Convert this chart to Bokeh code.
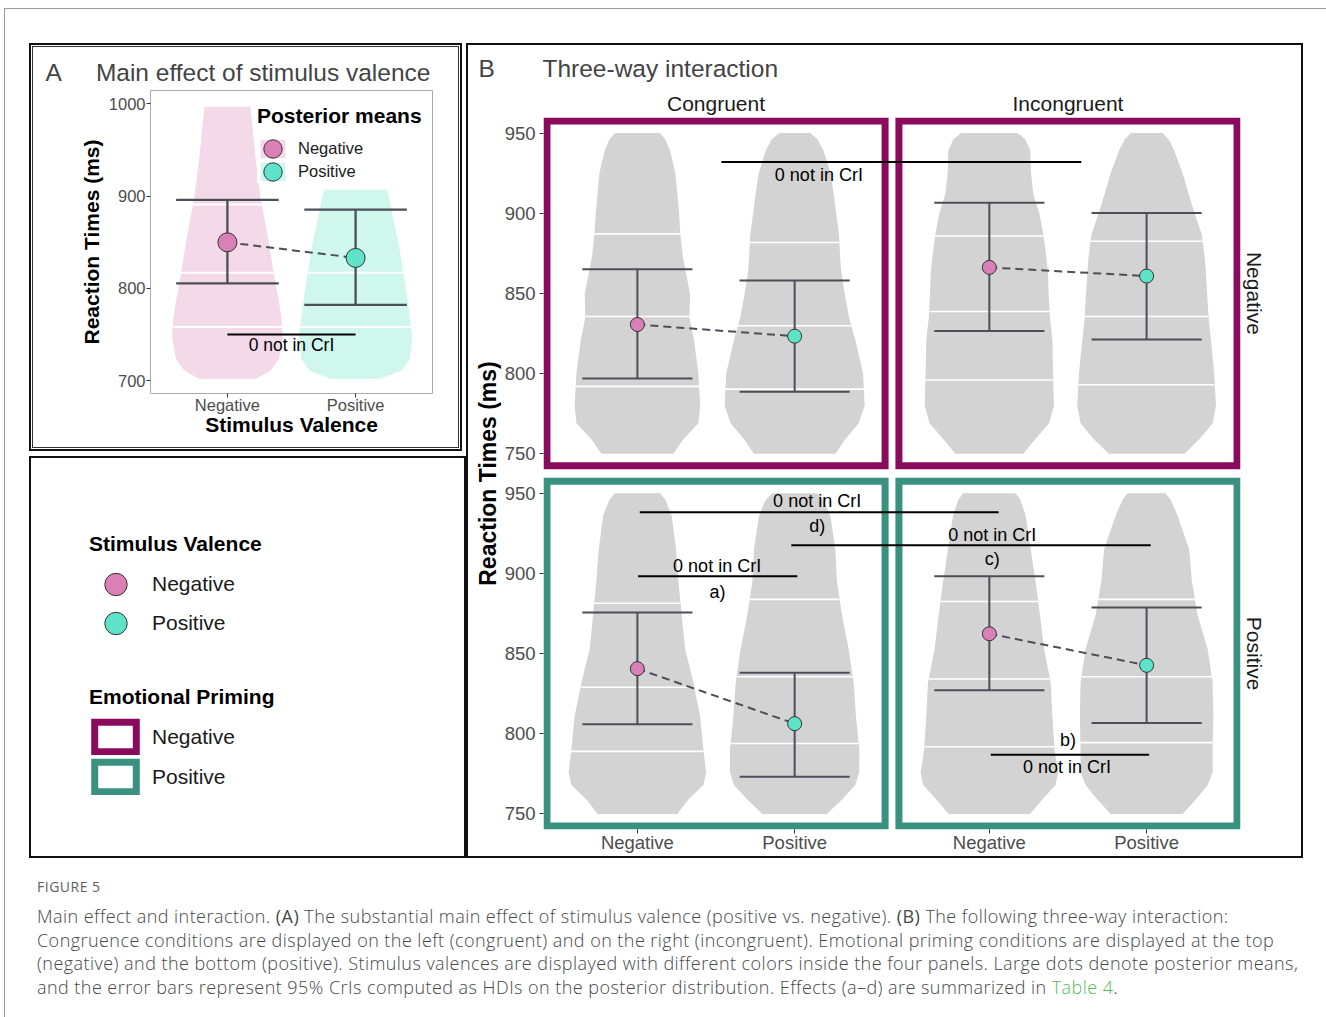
import numpy as np
from bokeh.plotting import figure
from bokeh.models import Range1d, FixedTicker, LinearAxis, Legend, LegendItem, Div, Spacer
from bokeh.layouts import column, row
from bokeh.embed import file_html
from bokeh.resources import INLINE
from bokeh.core.properties import value

FONT = "Liberation Sans"
NB = "\u00a0"

# ---------------- data ----------------
VALENCE = ["Negative", "Positive"]
CONGRUENCE = ["Congruent", "Incongruent"]
PRIMING = ["Negative", "Positive"]
VALENCE_COLORS = ["#DA80B6", "#5FE3C8"]
PRIMING_COLORS = ["#8A0B5D", "#3A9180"]

# Panel A: main effect of stimulus valence
A_MEAN = [849.9, 833.0]
A_LOWER = [805.5, 782.0]
A_UPPER = [895.9, 885.4]
A_VIOLIN_Y_NEG = [702, 711, 723, 747, 767, 787, 801, 850, 899, 942, 997]
A_VIOLIN_W_NEG = [0.223, 0.336, 0.401, 0.432, 0.422, 0.401, 0.380, 0.323, 0.258, 0.219, 0.180]
A_VIOLIN_Y_POS = [702, 711, 723, 747, 767, 787, 817, 850, 874, 903, 907]
A_VIOLIN_W_POS = [0.195, 0.359, 0.422, 0.443, 0.424, 0.406, 0.373, 0.334, 0.295, 0.255, 0.242]
A_QUANT_NEG = [758, 817, 891]
A_QUANT_POS = [758, 817]
A_YTICKS = [700, 800, 900, 1000]
A_CONTRAST = (1.0, 2.0, 750.0)          # x from, x to, y
A_CONTRAST_LABEL = (1.5, 739.0, "0 not in CrI")

# Panel B: three-way interaction, facets keyed by (priming, congruence)
B_YTICKS = [750, 800, 850, 900, 950]
B_LEVELS_TOP = [750, 759, 769, 780, 800, 821, 835, 850, 863, 873, 887, 900, 912, 925, 939, 946, 950]
B_LEVELS_BOTTOM = [750, 759, 768, 776, 790, 811, 832, 853, 874, 895, 915, 936, 946, 950]

B_MEAN = {
    ("Negative", "Congruent"): [830.6, 823.3],
    ("Negative", "Incongruent"): [866.2, 860.8],
    ("Positive", "Congruent"): [840.6, 806.3],
    ("Positive", "Incongruent"): [862.4, 842.7],
}
B_LOWER = {
    ("Negative", "Congruent"): [796.9, 788.6],
    ("Negative", "Incongruent"): [826.6, 821.3],
    ("Positive", "Congruent"): [805.9, 773.2],
    ("Positive", "Incongruent"): [827.1, 806.7],
}
B_UPPER = {
    ("Negative", "Congruent"): [865.1, 858.1],
    ("Negative", "Incongruent"): [906.5, 900.1],
    ("Positive", "Congruent"): [875.7, 838.1],
    ("Positive", "Incongruent"): [898.2, 878.7],
}
B_VIOLIN_W = {
    ("Negative", "Congruent"): (
        [0.229, 0.292, 0.388, 0.399, 0.388, 0.360, 0.331, 0.335, 0.308, 0.289, 0.273, 0.265, 0.254, 0.242, 0.208, 0.178, 0.143],
        [0.259, 0.322, 0.407, 0.445, 0.435, 0.386, 0.346, 0.318, 0.297, 0.289, 0.282, 0.264, 0.248, 0.229, 0.184, 0.146, 0.099]),
    ("Negative", "Incongruent"): (
        [0.216, 0.292, 0.380, 0.411, 0.405, 0.401, 0.385, 0.377, 0.373, 0.362, 0.343, 0.318, 0.280, 0.265, 0.261, 0.229, 0.180],
        [0.240, 0.335, 0.420, 0.441, 0.430, 0.409, 0.394, 0.385, 0.377, 0.369, 0.350, 0.305, 0.267, 0.229, 0.176, 0.140, 0.100]),
    ("Positive", "Congruent"): (
        [0.254, 0.324, 0.420, 0.437, 0.420, 0.399, 0.356, 0.303, 0.282, 0.261, 0.246, 0.218, 0.178, 0.143],
        [0.205, 0.301, 0.386, 0.411, 0.411, 0.390, 0.375, 0.343, 0.301, 0.269, 0.259, 0.227, 0.184, 0.140]),
    ("Positive", "Incongruent"): (
        [0.259, 0.337, 0.421, 0.437, 0.415, 0.401, 0.390, 0.348, 0.322, 0.294, 0.263, 0.231, 0.197, 0.167],
        [0.229, 0.313, 0.388, 0.420, 0.420, 0.424, 0.420, 0.388, 0.324, 0.288, 0.271, 0.197, 0.153, 0.121]),
}
B_QUANTILES = {
    ("Negative", "Congruent"): ([792.0, 835.6, 887.1], [790.3, 829.8, 881.7]),
    ("Negative", "Incongruent"): ([796.0, 838.7, 885.8], [793.0, 835.6, 882.5]),
    ("Positive", "Congruent"): ([789.0, 829.0, 881.4], [793.9, 835.6, 883.8]),
    ("Positive", "Incongruent"): ([791.9, 834.2, 882.5], [794.5, 835.6, 883.8]),
}
# contrast brackets: (priming row, start column, start x, end column, end x, y)
B_BRACKETS = [
    ("Negative", 0, 1.534, 1, 1.585, 931.9),
    ("Positive", 0, 1.015, 1, 1.059, 938.1),
    ("Positive", 0, 1.979, 1, 2.026, 917.6),
    ("Positive", 0, 1.004, 0, 2.017, 898.2),
    ("Positive", 1, 1.009, 1, 2.016, 786.9),
]
B_BRACKET_LABELS = [
    ("Negative", 0, 2.154, 923.8, "0 not in CrI"),
    ("Positive", 0, 2.143, 945.3, "0 not in CrI"),
    ("Positive", 0, 2.144, 929.7, "d)"),
    ("Positive", 1, 1.018, 924.0, "0 not in CrI"),
    ("Positive", 1, 1.019, 909.0, "c)"),
    ("Positive", 0, 1.507, 904.9, "0 not in CrI"),
    ("Positive", 0, 1.510, 888.2, "a)"),
    ("Positive", 1, 1.500, 795.9, "b)"),
    ("Positive", 1, 1.494, 779.2, "0 not in CrI"),
]

# ---------------- layout constants ----------------
FXLIM = (0.425, 2.575)     # facet x limits
FYLIM = (742.5, 957.5)     # facet y limits
DX = 2.238                 # column offset of the right facet
DY = 224.65                # row offset of the top facet
ROW_OFFSET = {"Negative": DY, "Positive": 0.0}
BAR_COLOR = "#4B4F57"
TICK_COLOR = "#4d4d4d"


def style_axis(ax, size, ticks=True):
    ax.axis_line_color = None
    ax.minor_tick_line_color = None
    ax.major_label_text_font = FONT
    ax.major_label_text_font_size = size
    ax.major_label_text_color = TICK_COLOR
    ax.axis_label_text_font = FONT
    ax.axis_label_text_font_style = "bold"
    ax.axis_label_text_color = "black"
    if ticks:
        ax.major_tick_line_color = "#333333"
        ax.major_tick_in = 0
        ax.major_tick_out = 4
    else:
        ax.major_tick_line_color = None
        ax.major_tick_in = 0
        ax.major_tick_out = 0


def bar(w, h, color):
    return Spacer(width=w, height=h, styles={"background-color": color})


def framed(child, w, h, layers):
    """Wrap a fixed-size child in solid frame layers (innermost last)."""
    node, iw, ih = child, w, h
    for t, c in reversed(layers):
        node = column(bar(iw + 2 * t, t, c),
                      row(bar(t, ih, c), node, bar(t, ih, c)),
                      bar(iw + 2 * t, t, c))
        iw += 2 * t
        ih += 2 * t
    return node


# ================= Panel A =================
pA = figure(width=425, height=400, x_range=Range1d(0.4, 2.6), y_range=Range1d(686, 1014.5),
            output_backend="svg", toolbar_location=None,
            min_border_left=117, min_border_right=26, min_border_top=43, min_border_bottom=54)
pA.grid.visible = False
pA.outline_line_color = "#aaaaaa"
pA.outline_line_width = 1
pA.title.text = "A" + NB * 5 + "Main effect of stimulus valence"
pA.title.text_font = FONT
pA.title.text_font_style = "normal"
pA.title.text_font_size = "24.5px"
pA.title.align = "left"
pA.title.offset = -105
pA.title.standoff = 9

a_violins = []
for i, (ys, ws, qs) in enumerate([(A_VIOLIN_Y_NEG, A_VIOLIN_W_NEG, A_QUANT_NEG),
                                  (A_VIOLIN_Y_POS, A_VIOLIN_W_POS, A_QUANT_POS)]):
    cx = i + 1
    ys = np.asarray(ys, float)
    ws = np.asarray(ws, float)
    r = pA.harea(x1=cx - ws, x2=cx + ws, y=ys, fill_color=VALENCE_COLORS[i], fill_alpha=0.3)
    a_violins.append(r)
    qw = np.interp(qs, ys, ws)
    pA.segment(x0=cx - qw, x1=cx + qw, y0=qs, y1=qs, line_color="white", line_width=2)

ax_pos = [1, 2]
pA.segment(x0=ax_pos, x1=ax_pos, y0=A_LOWER, y1=A_UPPER, line_color=BAR_COLOR, line_width=2.3)
pA.segment(x0=[x - 0.4 for x in ax_pos], x1=[x + 0.4 for x in ax_pos], y0=A_LOWER, y1=A_LOWER,
           line_color=BAR_COLOR, line_width=2.3)
pA.segment(x0=[x - 0.4 for x in ax_pos], x1=[x + 0.4 for x in ax_pos], y0=A_UPPER, y1=A_UPPER,
           line_color=BAR_COLOR, line_width=2.3)
pA.line(x=ax_pos, y=A_MEAN, line_color=BAR_COLOR, line_width=2, line_dash="8 5")
a_points = []
for i in range(2):
    a_points.append(pA.ellipse(x=[ax_pos[i]], y=[A_MEAN[i]], width=19, height=19,
                               width_units="screen", height_units="screen",
                               fill_color=VALENCE_COLORS[i], line_color="#333333", line_width=1))
pA.segment(x0=[A_CONTRAST[0]], x1=[A_CONTRAST[1]], y0=[A_CONTRAST[2]], y1=[A_CONTRAST[2]],
           line_color="black", line_width=2)
pA.text(x=[A_CONTRAST_LABEL[0]], y=[A_CONTRAST_LABEL[1]], text=[A_CONTRAST_LABEL[2]],
        text_font=value(FONT), text_font_size="17.5px", text_align="center",
        text_baseline="middle", text_color="black")

pA.xaxis.ticker = FixedTicker(ticks=ax_pos)
pA.xaxis.major_label_overrides = {ax_pos[i]: VALENCE[i] for i in range(2)}
pA.yaxis.ticker = FixedTicker(ticks=A_YTICKS)
pA.xaxis.axis_label = "Stimulus Valence"
pA.yaxis.axis_label = "Reaction Times (ms)"
for ax in (pA.xaxis[0], pA.yaxis[0]):
    style_axis(ax, "16.5px")
    ax.axis_label_text_font_size = "21px"
pA.xaxis.major_label_standoff = -2
pA.xaxis.axis_label_standoff = -4
pA.yaxis.major_label_standoff = 1
pA.yaxis.axis_label_standoff = 3

legA = Legend(items=[LegendItem(label=VALENCE[i], renderers=[a_violins[i], a_points[i]]) for i in range(2)],
              location=(107, 210), margin=0, padding=0, spacing=0,
              glyph_width=31, glyph_height=23, label_standoff=10,
              title="Posterior means", title_text_font=FONT, title_text_font_style="bold",
              title_text_font_size="21px", title_text_color="black", title_standoff=9,
              label_text_font=FONT, label_text_font_size="16.5px", label_text_color="#1a1a1a",
              background_fill_color="white", background_fill_alpha=1.0, border_line_color=None)
pA.add_layout(legA)

# ================= Legend panel =================
pL = figure(width=433, height=398, x_range=Range1d(0, 1), y_range=Range1d(0, 1),
            x_axis_type=None, y_axis_type=None, output_backend="svg", toolbar_location=None,
            min_border_left=0, min_border_right=0, min_border_top=0, min_border_bottom=0)
pL.outline_line_color = None
nan = float("nan")
val_r = [pL.ellipse(x=[nan], y=[nan], width=22, height=22, width_units="screen", height_units="screen",
                    fill_color=c, line_color="#333333", line_width=1) for c in VALENCE_COLORS]
prim_r = [pL.quad(left=[nan], right=[nan], bottom=[nan], top=[nan], fill_color="white",
                  line_color=c, line_width=7, line_join="miter") for c in PRIMING_COLORS]
common = dict(margin=0, padding=0, border_line_color=None, background_fill_alpha=0,
              title_text_font=FONT, title_text_font_style="bold", title_text_font_size="21px",
              title_text_color="black", label_text_font=FONT, label_text_font_size="21px",
              label_text_color="#1a1a1a")
leg1 = Legend(items=[LegendItem(label=v, renderers=[r]) for v, r in zip(VALENCE, val_r)],
              location=(58, 219), title="Stimulus Valence", glyph_width=53, glyph_height=28,
              spacing=11, label_standoff=10, title_standoff=14, **common)
leg2 = Legend(items=[LegendItem(label=v, renderers=[r]) for v, r in zip(PRIMING, prim_r)],
              location=(58, 61), title="Emotional Priming", glyph_width=52, glyph_height=37,
              spacing=3, label_standoff=11, title_standoff=9, **common)
pL.add_layout(leg1)
pL.add_layout(leg2)

# ================= Panel B =================
pB = figure(width=833, height=811,
            x_range=Range1d(FXLIM[0] - 0.022, FXLIM[1] + DX + 0.022),
            y_range=Range1d(FYLIM[0] - 2.2, FYLIM[1] + DY + 2.2),
            output_backend="svg", toolbar_location=None,
            min_border_left=75, min_border_right=61, min_border_top=72, min_border_bottom=27)
pB.grid.visible = False
pB.outline_line_color = None
pB.title.text = "B" + NB * 7 + "Three-way interaction"
pB.title.text_font = FONT
pB.title.text_font_style = "normal"
pB.title.text_font_size = "24.5px"
pB.title.align = "left"
pB.title.offset = -65
pB.title.standoff = 13

for prim in PRIMING:
    oy = ROW_OFFSET[prim]
    levels = np.asarray(B_LEVELS_TOP if prim == "Negative" else B_LEVELS_BOTTOM, float)
    for c, cong in enumerate(CONGRUENCE):
        ox = c * DX
        key = (prim, cong)
        cxs = [1 + ox, 2 + ox]
        for i in range(2):
            ws = np.asarray(B_VIOLIN_W[key][i], float)
            pB.harea(x1=cxs[i] - ws, x2=cxs[i] + ws, y=levels + oy, fill_color="#d3d3d3")
            qs = np.asarray(B_QUANTILES[key][i], float)
            qw = np.interp(qs, levels, ws)
            pB.segment(x0=cxs[i] - qw, x1=cxs[i] + qw, y0=qs + oy, y1=qs + oy,
                       line_color="white", line_width=1.6)
        lo = [v + oy for v in B_LOWER[key]]
        hi = [v + oy for v in B_UPPER[key]]
        mn = [v + oy for v in B_MEAN[key]]
        pB.segment(x0=cxs, x1=cxs, y0=lo, y1=hi, line_color=BAR_COLOR, line_width=2)
        pB.segment(x0=[x - 0.35 for x in cxs], x1=[x + 0.35 for x in cxs], y0=lo, y1=lo,
                   line_color=BAR_COLOR, line_width=2)
        pB.segment(x0=[x - 0.35 for x in cxs], x1=[x + 0.35 for x in cxs], y0=hi, y1=hi,
                   line_color=BAR_COLOR, line_width=2)
        pB.line(x=cxs, y=mn, line_color=BAR_COLOR, line_width=2, line_dash="8 5")
        pB.scatter(x=cxs, y=mn, size=14, fill_color=VALENCE_COLORS, line_color="#333333", line_width=1)
        pB.quad(left=[FXLIM[0] + ox], right=[FXLIM[1] + ox], bottom=[FYLIM[0] + oy], top=[FYLIM[1] + oy],
                fill_color=None, line_color=PRIMING_COLORS[PRIMING.index(prim)], line_width=7,
                line_join="miter")

for prim, c0, x0, c1, x1, y in B_BRACKETS:
    oy = ROW_OFFSET[prim]
    pB.segment(x0=[x0 + c0 * DX], x1=[x1 + c1 * DX], y0=[y + oy], y1=[y + oy],
               line_color="black", line_width=2)
pB.text(x=[x + c * DX for _, c, x, _, _ in B_BRACKET_LABELS],
        y=[y + ROW_OFFSET[p] for p, _, _, y, _ in B_BRACKET_LABELS],
        text=[t for *_, t in B_BRACKET_LABELS],
        text_font=value(FONT), text_font_size="18px", text_align="center",
        text_baseline="middle", text_color="black")

# axes of panel B
xt = [1.0, 2.0, 1.0 + DX, 2.0 + DX]
pB.xaxis.ticker = FixedTicker(ticks=xt)
pB.xaxis.major_label_overrides = {t: VALENCE[i % 2] for i, t in enumerate(xt)}
yt = []
yov = {}
for prim in PRIMING:
    for v in B_YTICKS:
        pos = v + ROW_OFFSET[prim]
        yt.append(pos)
        yov[pos] = str(v)
pB.yaxis.ticker = FixedTicker(ticks=sorted(yt))
pB.yaxis.major_label_overrides = yov
pB.yaxis.axis_label = "Reaction Times (ms)"
for ax in (pB.xaxis[0], pB.yaxis[0]):
    style_axis(ax, "18.5px")
pB.yaxis.axis_label_text_font_size = "23px"
pB.xaxis.major_label_standoff = -2
pB.yaxis.major_label_standoff = 4
pB.yaxis.axis_label_standoff = 1

strip_x = [1.5, 1.5 + DX]
ax_top = LinearAxis(ticker=FixedTicker(ticks=strip_x),
                    major_label_overrides={strip_x[i]: CONGRUENCE[i] for i in range(2)})
style_axis(ax_top, "21px", ticks=False)
ax_top.major_label_text_color = "#1a1a1a"
ax_top.major_label_standoff = 3
pB.add_layout(ax_top, "above")

row_c = [(FYLIM[0] + FYLIM[1]) / 2 + ROW_OFFSET[p] for p in PRIMING]
ax_right = LinearAxis(ticker=FixedTicker(ticks=sorted(row_c)),
                      major_label_overrides={row_c[i]: PRIMING[i] for i in range(2)},
                      major_label_orientation="parallel")
style_axis(ax_right, "21px", ticks=False)
ax_right.major_label_text_color = "#1a1a1a"
ax_right.major_label_standoff = 2
pB.add_layout(ax_right, "right")

# ================= caption =================
cap_html = (
    "<div style=\"font-family:'Open Sans',sans-serif;color:#474747;padding:15px 0 0 27px;\">"
    "<div style=\"font-size:14px;line-height:18px;letter-spacing:0.5px;color:#606060;\">FIGURE 5</div>"
    "<div style=\"font-size:18px;line-height:23.5px;margin-top:9px;font-weight:300;"
    "letter-spacing:0.45px;white-space:nowrap;\">"
    "Main effect and interaction. <b>(A)</b> The substantial main effect of stimulus valence "
    "(positive vs. negative). <b>(B)</b> The following three-way interaction:<br>"
    "Congruence conditions are displayed on the left (congruent) and on the right (incongruent). "
    "Emotional priming conditions are displayed at the top<br>"
    "(negative) and the bottom (positive). Stimulus valences are displayed with different colors "
    "inside the four panels. Large dots denote posterior means,<br>"
    "and the error bars represent 95% CrIs computed as HDIs on the posterior distribution. "
    "Effects (a\u2013d) are summarized in <span style=\"color:#5BB75B;\">Table 4</span>."
    "</div></div>"
)
caption = Div(text=cap_html, width=1300, height=140)

# ================= page assembly =================
boxA = framed(pA, 425, 400, [(2, "#111111"), (1, "#ffffff"), (1, "#333333")])
boxL = framed(pL, 433, 398, [(2, "#111111")])
boxB = framed(pB, 833, 811, [(2, "#111111")])

left = column(boxA, Spacer(width=10, height=5), boxL)
main = row(Spacer(width=24, height=10), left, boxB)
content = column(Spacer(width=10, height=34), main, caption)
GRAY = "#9a9a9a"
page = column(Spacer(width=10, height=8),
              row(Spacer(width=4, height=10), bar(1, 1009, GRAY),
                  column(bar(1321, 1, GRAY), content)))

open("out.html", "w").write(file_html(page, INLINE))
